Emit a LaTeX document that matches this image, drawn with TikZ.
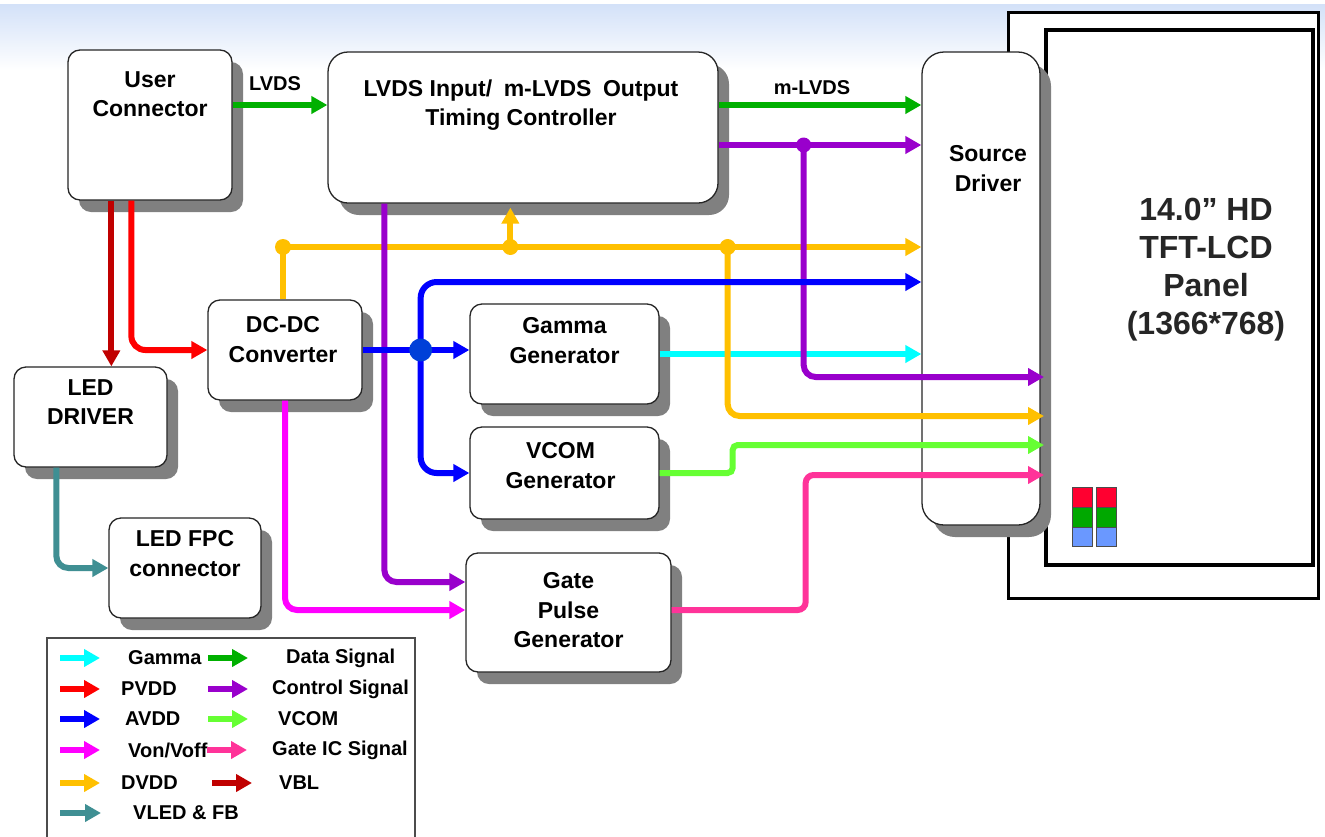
\documentclass[tikz,border=0pt]{standalone}
\usepackage{fontspec}
\setmainfont{Liberation Sans}
\usetikzlibrary{arrows.meta,positioning,shadows,calc}
\definecolor{cGamma}{HTML}{00FFFF}
\definecolor{cData}{HTML}{00B000}
\definecolor{cPVDD}{HTML}{FF0000}
\definecolor{cCtrl}{HTML}{9900CC}
\definecolor{cAVDD}{HTML}{0000FF}
\definecolor{cVCOM}{HTML}{66FF33}
\definecolor{cVon}{HTML}{FF00FF}
\definecolor{cGateIC}{HTML}{FF3399}
\definecolor{cDVDD}{HTML}{FFC000}
\definecolor{cVBL}{HTML}{C00000}
\definecolor{cVLED}{HTML}{3F8F93}
\definecolor{cDot}{HTML}{0040D8}
\definecolor{skyTop}{HTML}{D3E1F8}
\definecolor{pxRed}{HTML}{FF0030}
\definecolor{pxGreen}{HTML}{00A800}
\definecolor{pxBlue}{HTML}{6A98FF}
\tikzset{
  blk/.style={draw=black!85, line width=1.3pt, fill=white, rounded corners=12pt,
    drop shadow={shadow xshift=11pt, shadow yshift=-12pt, fill=black!50, opacity=1}},
  blktext/.style={inner sep=0pt, align=center, font=\bfseries\fontsize{23}{29.5}\selectfont},
  paneltext/.style={inner sep=0pt, align=center, text=black!85, font=\bfseries\fontsize{32}{38}\selectfont},
  panelframe/.style={draw=black, fill=white, inner sep=0pt},
  sig/.style={line width=6pt, -{Triangle[length=16pt,width=17pt]}},
  lbl/.style={inner sep=0pt, font=\bfseries\fontsize{20}{24}\selectfont},
  jdot/.style={circle, fill, inner sep=0pt, minimum size=#1},
  jdot/.default=16pt
}
\begin{document}
\begin{tikzpicture}[x=1pt, y=-1pt]
\useasboundingbox (0,0) rectangle (1325,836);
\fill[white] (0,0) rectangle (1325,836);
\shade[top color=skyTop, bottom color=white] (0,4) rectangle (1325,70);

% LCD panel
\node[panelframe, line width=3pt, minimum width=310pt, minimum height=586pt] (bezel) at (1163,305) {};
\node[panelframe, line width=4pt, minimum width=267pt, minimum height=535pt] (lcd) at (1179.5,297.5) {};
\node[paneltext, below=170pt of lcd.north, xshift=26.5pt] (lcdtext) {14.0” HD\\TFT-LCD\\Panel\\(1366*768)};
\foreach \px in {1072,1096}{
  \filldraw[fill=pxRed, draw=black!70] (\px,487) rectangle ++(20,20);
  \filldraw[fill=pxGreen, draw=black!70] (\px,507) rectangle ++(20,20);
  \filldraw[fill=pxBlue, draw=black!70] (\px,527) rectangle ++(20,19);
}

% blocks
\node[blk, minimum width=164pt, minimum height=150pt] (uc) at (150,125) {};
\node[blk, rounded corners=20pt, minimum width=390pt, minimum height=151pt] (tc) at (523,127.5) {};
\node[blk, rounded corners=22pt, minimum width=118pt, minimum height=473pt] (sd) at (981,288.5) {};
\node[blk, minimum width=154pt, minimum height=100pt] (dcdc) at (285,350) {};
\node[blk, minimum width=153pt, minimum height=100pt] (led) at (90.5,417) {};
\node[blk, minimum width=152pt, minimum height=100pt] (fpc) at (185,568) {};
\node[blk, minimum width=189pt, minimum height=100pt] (gam) at (564.5,354) {};
\node[blk, minimum width=189pt, minimum height=92pt] (vcom) at (564.5,473) {};
\node[blk, minimum width=205pt, minimum height=119pt] (gate) at (568.5,612.5) {};

\node[blktext, below=22pt of uc.north] (uctext) {User\\Connector};
\node[blktext, below=28pt of tc.north, xshift=-2pt] (tctext) {LVDS Input/\enspace m-LVDS\enspace Output\\Timing Controller};
\node[blktext, below=94pt of sd.north, xshift=7pt] (sdtext) {Source\\Driver};
\node[blktext, below=17pt of dcdc.north, xshift=-2pt] (dcdctext) {DC-DC\\Converter};
\node[blktext, below=13pt of led.north] (ledtext) {LED\\DRIVER};
\node[blktext, below=13pt of fpc.north] (fpctext) {LED FPC\\connector};
\node[blktext, below=14pt of gam.north] (gamtext) {Gamma\\Generator};
\node[blktext, below=16pt of vcom.north, xshift=-4pt] (vcomtext) {VCOM\\Generator};
\node[blktext, below=20pt of gate.north] (gatetext) {Gate\\Pulse\\Generator};

% data signals
\draw[sig, cData] ([yshift=20pt]uc.east) -- ([yshift=20pt]uc.east -| tc.west)
  node[lbl, midway, above=11pt, xshift=-5pt, text=black] (lvdslbl) {LVDS};
\draw[sig, cData] ([yshift=22.5pt]tc.east) -- ([yshift=22.5pt]tc.east -| sd.west)
  node[lbl, midway, above=7.5pt, xshift=-8pt, text=black] (mlvdslbl) {m-LVDS};

% gamma
\draw[sig, cGamma] (gam.east) -- (gam.east -| sd.west);

% DVDD
\coordinate (dv0) at ([xshift=-2pt]dcdc.north);
\coordinate (dvin) at ([yshift=41.5pt]sd.west);
\coordinate (dvup) at ([xshift=183pt]tc.south west);
\coordinate (dvdn) at ([xshift=9pt]tc.south east);
\draw[sig, cDVDD] (dv0) |- (dvin);
\draw[sig, cDVDD, shorten >=4pt] (dvup |- dvin) -- (dvup);
\draw[sig, cDVDD, rounded corners=12pt] (dvdn |- dvin) |- ([yshift=-118.5pt]lcd.west);

% control
\coordinate (ctlj) at ([yshift=-17.5pt, xshift=85pt]tc.east);
\draw[sig, cCtrl] ([yshift=-17.5pt]tc.east) -- ([yshift=-17.5pt]tc.east -| sd.west);
\draw[sig, cCtrl, rounded corners=12pt] (ctlj) |- ([yshift=-79.5pt]lcd.west);
\draw[sig, cCtrl, rounded corners=12pt] ([xshift=57pt]tc.south west) |- ([yshift=30.5pt]gate.west);

% AVDD
\coordinate (avj) at ([xshift=58pt]dcdc.east);
\draw[sig, cAVDD] (dcdc.east) -- (dcdc.east -| gam.west);
\draw[sig, cAVDD, rounded corners=16pt] (avj) |- ([yshift=6.5pt]sd.west);
\draw[sig, cAVDD, rounded corners=16pt] (avj) |- (vcom.west);

% VBL, PVDD
\coordinate (vblx) at ([xshift=44pt]uc.south west);
\draw[sig, cVBL] (vblx) -- (vblx |- led.north);
\draw[sig, cPVDD, rounded corners=14pt] ([xshift=64pt]uc.south west) |- (dcdc.west);

% VCOM, Von/Voff, Gate IC, VLED
\draw[sig, cVCOM, rounded corners=5pt] (vcom.east) -- ++(73,0) |- ([yshift=-147.5pt]lcd.west);
\draw[sig, cVon, rounded corners=12pt] (dcdc.south) |- ([yshift=2.5pt]gate.west);
\draw[sig, cGateIC, rounded corners=8pt] ([yshift=2.5pt]gate.east) -- ++(134,0) |- ([yshift=-177.5pt]lcd.west);
\draw[sig, cVLED, rounded corners=12pt] ([xshift=43pt]led.south west) |- (fpc.west);

% junctions
\node[jdot=15pt, cCtrl] (ctldot) at (ctlj) {};
\node[jdot, cDVDD] (dvdot1) at (dv0 |- dvin) {};
\node[jdot, cDVDD] (dvdot2) at (dvup |- dvin) {};
\node[jdot, cDVDD] (dvdot3) at (dvdn |- dvin) {};
\node[jdot=23pt, fill=cDot] (avdot) at (avj) {};

% legend
\draw[draw=black!70, line width=1.2pt, fill=white] (47,638) rectangle (415,850);
\node[lbl, anchor=west] (lg1) at (128,658) {Gamma};
\node[lbl, anchor=west] (lg2) at (121,689) {PVDD};
\node[lbl, anchor=west] (lg3) at (125,719) {AVDD};
\node[lbl, anchor=west] (lg4) at (128,750) {Von/Voff};
\node[lbl, anchor=west] (lg5) at (121,783) {DVDD};
\node[lbl, anchor=west] (lg6) at (133,813) {VLED \& FB};
\node[lbl, anchor=west] (lg7) at (286,658) {Data Signal};
\node[lbl, anchor=west] (lg8) at (272,689) {Control Signal};
\node[lbl, anchor=west] (lg9) at (278,719) {VCOM};
\node[lbl, anchor=west] (lg10) at (272,750) {Gate IC Signal};
\node[lbl, anchor=west] (lg11) at (279,783) {VBL};
\draw[sig, cGamma] (60,658) -- (100,658);
\draw[sig, cPVDD] (60,689) -- (100,689);
\draw[sig, cAVDD] (60,719) -- (100,719);
\draw[sig, cVon] (60,750) -- (100,750);
\draw[sig, cDVDD] (60,783) -- (100,783);
\draw[sig, cVLED] (60,813) -- (101,813);
\draw[sig, cData] (208,658) -- (248,658);
\draw[sig, cCtrl] (208,689) -- (248,689);
\draw[sig, cVCOM] (208,719) -- (248,719);
\draw[sig, cGateIC] (207,750) -- (247,750);
\draw[sig, cVBL] (212,783) -- (252,783);
\end{tikzpicture}
\end{document}
